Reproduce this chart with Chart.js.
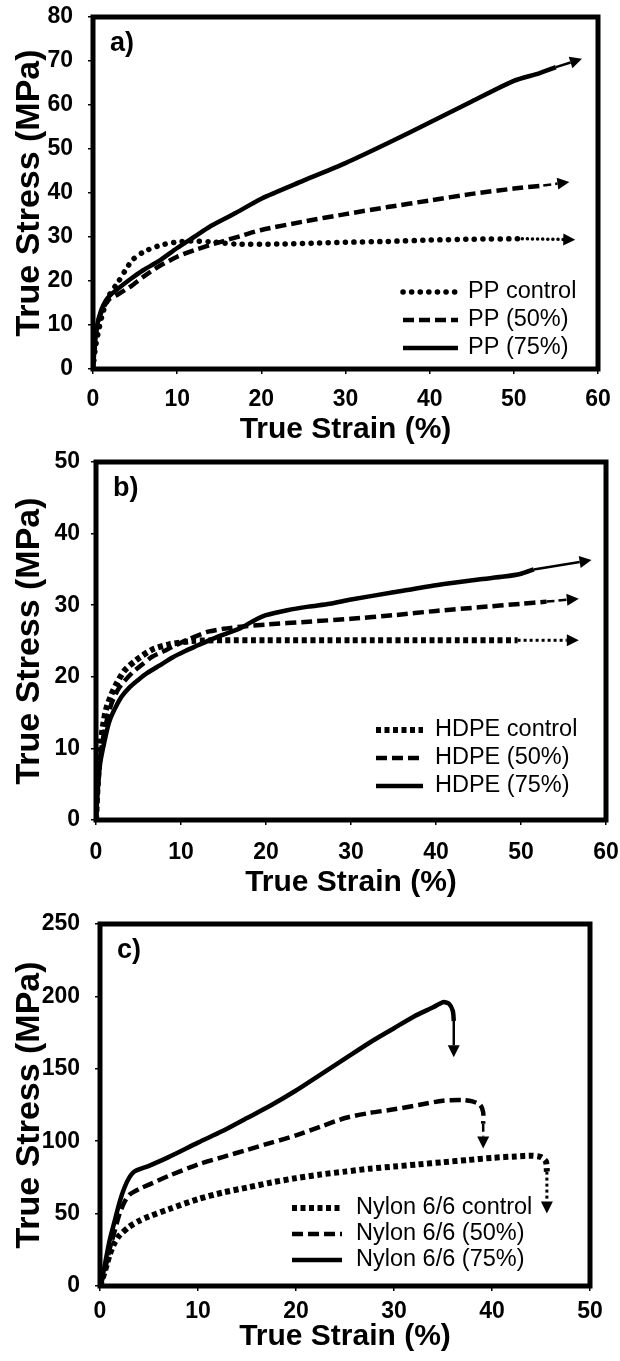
<!DOCTYPE html>
<html>
<head>
<meta charset="utf-8">
<script src="https://cdn.jsdelivr.net/npm/chart.js@4.4.1/dist/chart.umd.min.js"></script>
<style>
  html, body { margin: 0; padding: 0; background: #fff; }
  .panel { position: absolute; left: 0; width: 620px; }
</style>
</head>
<body>
<div class="panel" style="top:0;height:445px"><canvas id="chartA"></canvas></div>
<div class="panel" style="top:450px;height:448px"><canvas id="chartB"></canvas></div>
<div class="panel" style="top:900px;height:452px"><canvas id="chartC"></canvas></div>
<script>
// --- data: [strain %, stress MPa] ---
const ppControl = [[0,0],[0.3,5],[0.7,9],[1.2,13],[2,17],[3,19.8],[3.8,22.3],[4.7,24.8],[6,26.6],[7.8,28],[9.7,28.8],[11.6,29.1],[14,28.9],[17,28.4],[22,28.4],[26,28.6],[30,28.8],[35,29],[40,29.3],[45,29.5],[51,29.6]];
const pp50 = [[0,0],[0.2,5],[0.5,10],[1,13],[1.5,14.8],[2,16],[3,17],[4.5,18.8],[6,21],[7.8,23.3],[10,25.5],[12,27],[15,28.8],[17.5,30.2],[20,31.6],[25,33.5],[30,35.2],[35,36.8],[40,38.3],[45,39.8],[50,41],[53.5,41.7]];
const pp75 = [[0,0],[0.2,5],[0.5,10],[1,13.5],[1.5,15.5],[2,16.7],[3,18.3],[4.5,20.5],[6,22.5],[7.8,24.5],[10,27.5],[12,30],[14,32.5],[17,35.5],[20,38.7],[25,42.8],[30,46.8],[35,51.3],[40,56],[45,60.8],[50,65.5],[53,67.2],[55,68.6]];
const ppTips = [[57.3,29.4],[56.6,42.5],[58.1,70.5]];

const hdpeControl = [[0,0],[0.2,5],[0.5,10],[0.8,13],[1.2,15.5],[1.8,17.5],[2.4,19],[3.3,20.8],[4.7,22.3],[6.6,23.8],[8.5,24.5],[11.3,25],[15,25.1],[20,25.1],[30,25.1],[40,25.1],[49.6,25.1]];
const hdpe50 = [[0,0],[0.2,5],[0.5,9],[1,12.5],[1.5,15],[2,16.8],[2.8,18.6],[4.2,20.5],[5.5,21.8],[6.6,22.8],[8,23.6],[9,24.2],[11,25.3],[13.2,26.3],[15,26.7],[17,27],[20,27.3],[25,27.7],[30,28.1],[35,28.6],[40,29.2],[45,29.7],[50,30.2],[53,30.5]];
const hdpe75 = [[0,0],[0.2,4],[0.5,8],[1,11],[1.5,13.5],[2,15],[3,17.2],[4,18.6],[5,19.6],[6,20.5],[7.5,21.6],[9,22.7],[10.5,23.6],[12,24.4],[13.5,25.2],[15,25.9],[17,26.8],[18.5,27.8],[20,28.6],[22.5,29.3],[25,29.8],[27.5,30.2],[30,30.8],[35,31.8],[40,32.8],[45,33.6],[48,34],[50,34.4],[51.5,35]];
const hdpeTips = [[56.8,25.1],[56.8,30.9],[58.3,36.3]];

const nylonControl = [[0,0],[0.3,6],[0.7,15],[1,22],[1.5,30],[2,35],[3,41],[4,45],[5,48],[7,53],[10,60],[12.5,64.5],[15,68],[17.5,71.5],[20,74.5],[22.5,77],[25,79],[27.5,81],[30,82.5],[32.5,84],[35,85.5],[37.5,87],[40,88.5],[42.5,89.5],[44,90],[45,89],[45.5,86],[45.6,79]];
const nylon50 = [[0,0],[0.3,6],[0.7,17],[1,26],[1.5,38],[2,50],[2.5,58],[3,63],[4,67],[5,70],[7,76],[10,84],[12.5,89],[15,94],[17.5,99],[20,104],[22.5,110],[25,116],[27.5,119.5],[30,122],[32.5,125],[35,128],[37,128.5],[38,127.5],[38.8,125],[39.1,120],[39.1,112]];
const nylon75 = [[0,0],[0.3,8],[0.7,22],[1,32],[1.5,45],[2,58],[2.5,68],[3,75],[3.5,79],[5,83],[7,89],[10,99],[12.5,107],[15,116],[17.5,125],[20,135],[22.5,146],[25,157],[27.5,168],[30,178],[32,186],[34,192.5],[35,196],[35.6,195],[36,190],[36.1,183]];
const nylonTips = [[45.6,50],[39.1,95],[36.1,158]];

const ppLabels = ['PP control', 'PP (50%)', 'PP (75%)'];
const hdpeLabels = ['HDPE control', 'HDPE (50%)', 'HDPE (75%)'];
const nylonLabels = ['Nylon 6/6 control', 'Nylon 6/6 (50%)', 'Nylon 6/6 (75%)'];

const FONT = '"Liberation Sans", Arial, sans-serif';

// line styles: control / 50% / 75%
function styles(roundDots) {
  return [
    roundDots
      ? { borderWidth: 5.5, borderDash: [0.1, 8.5], borderCapStyle: 'round', tailDash: [0.1, 5], tailWidth: 3.5 }
      : { borderWidth: 6, borderDash: [5, 3.5], borderCapStyle: 'butt', tailDash: [3, 3], tailWidth: 3 },
    { borderWidth: 4.5, borderDash: [11, 5], borderCapStyle: 'butt', tailDash: [8, 4], tailWidth: 2.5 },
    { borderWidth: 4.5, borderDash: [], borderCapStyle: 'butt', tailDash: [], tailWidth: 2.5 }
  ];
}

// frame, panel letter, arrow tails and the in-plot legend
const decor = {
  id: 'decor',
  afterDatasetsDraw(chart, args, opts) {
    const ctx = chart.ctx, xs = chart.scales.x, ys = chart.scales.y;
    chart.data.datasets.forEach(ds => {
      const last = ds.data[ds.data.length - 1];
      const x0 = xs.getPixelForValue(last.x), y0 = ys.getPixelForValue(last.y);
      const x1 = xs.getPixelForValue(ds.tip[0]), y1 = ys.getPixelForValue(ds.tip[1]);
      const a = Math.atan2(y1 - y0, x1 - x0), c = Math.cos(a), s = Math.sin(a);
      const head = 12, half = 6;
      ctx.save();
      ctx.strokeStyle = '#000';
      ctx.fillStyle = '#000';
      ctx.lineWidth = ds.tailWidth;
      ctx.lineCap = ds.borderCapStyle;
      ctx.setLineDash(ds.tailDash);
      ctx.beginPath();
      ctx.moveTo(x0, y0);
      ctx.lineTo(x1 - head * c, y1 - head * s);
      ctx.stroke();
      ctx.setLineDash([]);
      ctx.beginPath();
      ctx.moveTo(x1, y1);
      ctx.lineTo(x1 - head * c - half * s, y1 - head * s + half * c);
      ctx.lineTo(x1 - head * c + half * s, y1 - head * s - half * c);
      ctx.closePath();
      ctx.fill();
      ctx.restore();
    });
  },
  afterDraw(chart, args, opts) {
    const ctx = chart.ctx, area = chart.chartArea;
    ctx.save();
    ctx.strokeStyle = '#000';
    ctx.lineWidth = 5;
    ctx.strokeRect(area.left, area.top, area.right - area.left, area.bottom - area.top);
    ctx.fillStyle = '#000';
    ctx.font = 'bold 27px ' + FONT;
    ctx.textBaseline = 'middle';
    ctx.fillText(opts.letter, area.left + 17, area.top + 27);
    // legend
    ctx.font = opts.legendFont + 'px ' + FONT;
    chart.data.datasets.forEach((ds, i) => {
      const y = opts.rowY + i * opts.rowGap;
      ctx.lineWidth = ds.borderWidth;
      ctx.lineCap = ds.borderCapStyle;
      ctx.setLineDash(ds.borderDash);
      ctx.beginPath();
      ctx.moveTo(opts.lineX0, y);
      ctx.lineTo(opts.lineX1, y);
      ctx.stroke();
      ctx.setLineDash([]);
      ctx.fillText(ds.label, opts.textX, y);
    });
    ctx.restore();
  }
};

function makeChart(id, series, labels, tips, roundDots, cfg) {
  const st = styles(roundDots);
  const datasets = series.map((pts, i) => Object.assign({
    label: labels[i],
    data: pts.map(p => ({ x: p[0], y: p[1] })),
    tip: tips[i],
    borderColor: '#000',
    backgroundColor: '#000',
    pointRadius: 0,
    tension: 0.25,
    fill: false
  }, st[i]));

  new Chart(document.getElementById(id), {
    type: 'line',
    data: { datasets },
    options: {
      responsive: true,
      maintainAspectRatio: false,
      animation: false,
      devicePixelRatio: 1,
      layout: { padding: { top: cfg.padTop, left: 0, right: cfg.padRight, bottom: 0 } },
      plugins: {
        legend: { display: false },
        tooltip: { enabled: false },
        decor: cfg.decor
      },
      scales: {
        x: {
          type: 'linear',
          min: 0, max: cfg.xMax,
          grid: { display: true, drawOnChartArea: false, drawTicks: true, tickLength: 5, color: '#000', lineWidth: 1.5 },
          border: { display: false },
          ticks: { stepSize: 10, autoSkip: false, maxRotation: 0, color: '#000', padding: cfg.xTickPad,
                   font: { family: FONT, size: 23, weight: 'bold' } },
          title: { display: true, text: 'True Strain (%)', color: '#000', padding: 0,
                   font: { family: FONT, size: 30, weight: 'bold', lineHeight: 1 } },
          afterFit(s) { s.height = cfg.xAxisH; s.paddingLeft = 0; s.paddingRight = 0; }
        },
        y: {
          min: 0, max: cfg.yMax,
          grid: { display: true, drawOnChartArea: false, drawTicks: true, tickLength: 5, color: '#000', lineWidth: 1.5 },
          border: { display: false },
          ticks: { stepSize: cfg.yStep, color: '#000', padding: cfg.yTickPad,
                   font: { family: FONT, size: 23, weight: 'bold' } },
          title: { display: true, text: 'True Stress (MPa)', color: '#000', padding: { top: 13, bottom: 0 },
                   font: { family: FONT, size: 34, weight: 'bold', lineHeight: 1 } },
          afterFit(s) { s.width = cfg.yAxisW; s.paddingTop = 0; s.paddingBottom = 0; }
        }
      }
    },
    plugins: [decor]
  });
}

makeChart('chartA', [ppControl, pp50, pp75], ppLabels, ppTips, true, {
  xMax: 60, yMax: 80, yStep: 10,
  padTop: 17, padRight: 22, yAxisW: 93, xAxisH: 76, xTickPad: 12, yTickPad: 15,
  decor: { letter: 'a)', legendFont: 23.5, lineX0: 403, lineX1: 458, textX: 468, rowY: 292, rowGap: 28 }
});

makeChart('chartB', [hdpeControl, hdpe50, hdpe75], hdpeLabels, hdpeTips, false, {
  xMax: 60, yMax: 50, yStep: 10,
  padTop: 12, padRight: 14, yAxisW: 96, xAxisH: 78, xTickPad: 14, yTickPad: 11,
  decor: { letter: 'b)', legendFont: 23.5, lineX0: 376, lineX1: 423, textX: 435, rowY: 280, rowGap: 28 }
});

makeChart('chartC', [nylonControl, nylon50, nylon75], nylonLabels, nylonTips, false, {
  xMax: 50, yMax: 250, yStep: 50,
  padTop: 24, padRight: 30, yAxisW: 100, xAxisH: 66, xTickPad: 7, yTickPad: 15,
  decor: { letter: 'c)', legendFont: 23.5, lineX0: 292, lineX1: 342, textX: 356, rowY: 308, rowGap: 26 }
});
</script>
</body>
</html>
